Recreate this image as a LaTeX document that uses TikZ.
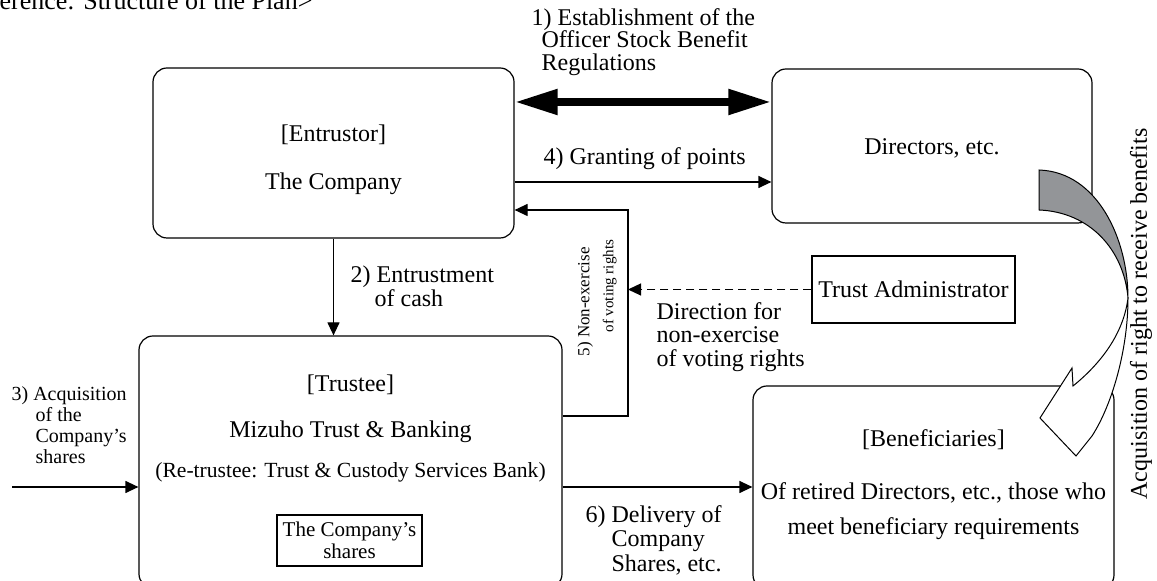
\documentclass[tikz,border=0pt]{standalone}
\usepackage{fontspec}
\setmainfont{Liberation Serif}
\usetikzlibrary{arrows.meta,positioning,shapes,calc}
\definecolor{ribbon}{RGB}{147,149,152}

\begin{document}
\begin{tikzpicture}[%
      x=0.5pt, y=-0.5pt,          % pixel grid, y runs downwards
      >={Triangle[length=6.5pt,width=6pt]},
      font=\fontsize{12}{11.5}\selectfont,
      line width=0.6pt
      ]
  \tikzset{
   rbox/.style={draw,rectangle,rounded corners=7pt,inner sep=0pt},
   sbox/.style={draw,rectangle,inner sep=0pt},
   txt/.style={inner sep=0pt,anchor=base},
   lbl/.style={inner sep=0pt,align=left,anchor=north west},
   fat/.style={line width=4pt,{Triangle[length=21.5pt,width=12pt]}-{Triangle[length=21.5pt,width=12pt]}}}
 \useasboundingbox (0,0) rectangle (1157,581);
 \clip (0,0) rectangle (1157,581);

 \node [txt,anchor=base east,font=\fontsize{13}{15}\selectfont] (title) at (313,10) {<Reference: Structure of the Plan>};

 % boxes
 \node [rbox,minimum width=180.5pt,minimum height=85pt] (entr) at (333.5,153) {};
 \node [txt] (entr1) at (333.5,142) {[Entrustor]};
 \node [txt] (entr2) at (333.5,190) {The Company};

 \node [rbox,minimum width=160pt,minimum height=77pt] (dir) at (932,146) {};
 \node [txt] (dir1) at (932,155) {Directors, etc.};

 \node [rbox,minimum width=211.5pt,minimum height=126pt] (trus) at (350.5,462) {};
 \node [txt] (trus1) at (350.5,392) {[Trustee]};
 \node [txt] (trus2) at (350.5,438) {Mizuho Trust \& Banking};
 \node [txt,font=\fontsize{10.8}{12}\selectfont] (trus3) at (350.5,478) {(Re-trustee: Trust \& Custody Services Bank)};
 \node [sbox,align=center,minimum width=72.5pt,minimum height=25.5pt,
        font=\fontsize{10.5}{11}\selectfont] (shares) at (349.5,540.5) {The Company's\\shares};

 \node [rbox,minimum width=180.5pt,minimum height=101.5pt] (ben) at (933.5,487.5) {};
 \node [txt] (ben1) at (933.5,447) {[Beneficiaries]};
 \node [txt] (ben2) at (933.5,500) {Of retired Directors, etc., those who};
 \node [txt] (ben3) at (933.5,535) {meet beneficiary requirements};

 \node [sbox,minimum width=101.5pt,minimum height=33.5pt] (adm) at (913.5,289.5) {Trust Administrator};

 % connectors
 \coordinate (c1) at (0,102);
 \coordinate (c4) at (0,182);
 \coordinate (c5a) at (628,416);
 \coordinate (c5b) at (628,210);
 \coordinate (c3) at (12,487);
 \coordinate (c6) at (0,487);
 \draw[fat] (entr.east |- c1) -- (dir.west |- c1);
 \draw[->] (entr.east |- c4) -- (dir.west |- c4);
 \draw[->] (entr.south) -- (entr.south |- trus.north);
 \draw[->] (trus.east |- c5a) -- (c5a) -- (c5b) -- (entr.east |- c5b);
 \draw[->,dash pattern=on 4pt off 2.5pt] (adm.west) -- (c5a |- adm.west);
 \draw[->] (c3) -- (trus.west |- c3);
 \draw[->] (trus.east |- c6) -- (ben.west |- c6);

 % labels
 \node [lbl,font=\fontsize{12}{11.25}\selectfont] (l1) at (531,8)
   {1) Establishment of the\\\hspace*{5pt}Officer Stock Benefit\\\hspace*{5pt}Regulations};
 \node [txt,anchor=base west] (l4) at (543,165) {4) Granting of points};
 \node [lbl,font=\fontsize{12}{11}\selectfont] (l2) at (350,265) {2) Entrustment\\\hspace*{12pt}of cash};
 \node [lbl,font=\fontsize{10}{10.5}\selectfont] (l3) at (11,386)
   {3) Acquisition\\\hspace*{12pt}of the\\\hspace*{12pt}Company's\\\hspace*{12pt}shares};
 \node [lbl,rotate=90,font=\fontsize{8.5}{12}\selectfont] (l5) at (577,357)
   {5) Non-exercise\\\hspace*{12pt}{\fontsize{7.5}{12}\selectfont of voting rights}};
 \node [lbl,font=\fontsize{12}{11.75}\selectfont] (ldir) at (656,302) {Direction for\\non-exercise\\of voting rights};
 \node [lbl,font=\fontsize{12}{12.2}\selectfont] (l6) at (585,505)
   {6) Delivery of\\\hspace*{13pt}Company\\\hspace*{13pt}Shares, etc.};
 \node [txt,anchor=center,rotate=90] (lacq) at (1141,314) {Acquisition of right to receive benefits};

 % curved arrow from directors to beneficiaries
 \draw[line width=0.5pt,fill=ribbon] (1039,170) .. controls (1098,172) and (1128,240) .. (1128,298)
   .. controls (1124,250) and (1090,212) .. (1039,210) -- cycle;
 \draw[line width=0.5pt,fill=white] (1128,298) .. controls (1128,350) and (1112,405) .. (1092,436)
   -- (1076,456) -- (1040,418) -- (1072,368) -- (1073,386)
   .. controls (1105,360) and (1124,330) .. (1128,298) -- cycle;
\end{tikzpicture}
\end{document}
